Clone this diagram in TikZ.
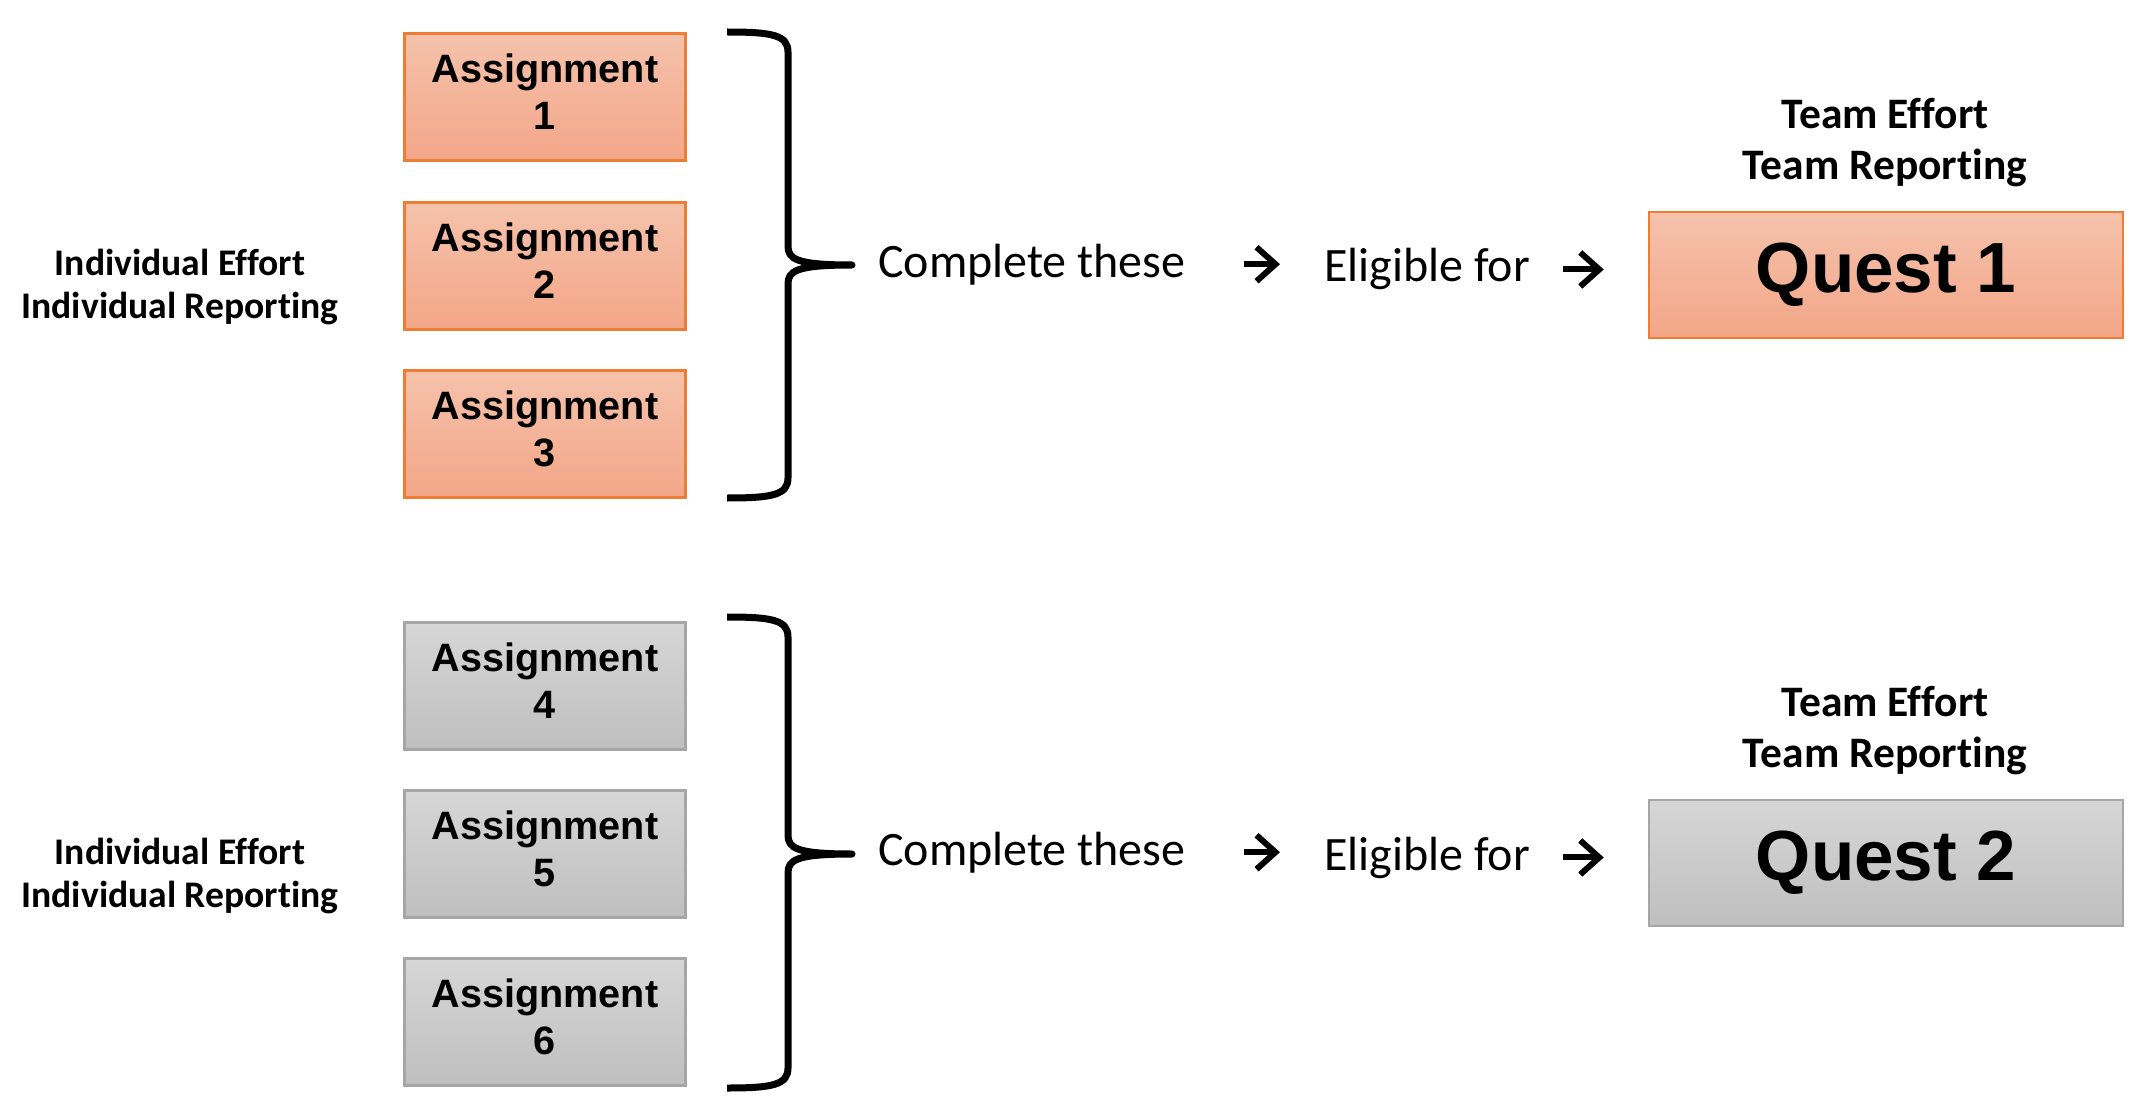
\documentclass[tikz,border=0pt]{standalone}
\usepackage{fontspec}
\setmainfont{Carlito}[Ligatures=NoCommon]
\newfontfamily\arialfont{Liberation Sans}
\usepackage{xcolor}
\usepackage{tikz}
\usetikzlibrary{arrows.meta}

\definecolor{orangetop}{RGB}{245,194,171}
\definecolor{orangebottom}{RGB}{243,166,136}
\definecolor{orangeline}{RGB}{237,125,50}
\definecolor{graytop}{RGB}{214,214,214}
\definecolor{graybottom}{RGB}{191,191,191}
\definecolor{grayline}{RGB}{166,166,166}

\begin{document}
\begin{tikzpicture}[x=1pt, y=-1pt,
        orangebox/.style={draw=orangeline, line width=2.5pt, top color=orangetop, bottom color=orangebottom},
        graybox/.style={draw=grayline, line width=2.5pt, top color=graytop, bottom color=graybottom},
        assign/.style={minimum width=281pt, minimum height=127pt, inner sep=0pt, align=center,
            text depth=10pt, font=\arialfont\bfseries\fontsize{39.6}{47}\selectfont},
        quest/.style={minimum width=474pt, minimum height=126pt, inner sep=0pt,
            font=\arialfont\bfseries\fontsize{71}{80}\selectfont},
        effort/.style={align=center, inner sep=0pt, font=\bfseries\fontsize{37.6}{43}\selectfont},
        team/.style={align=center, inner sep=0pt, font=\bfseries\fontsize{43.5}{51}\selectfont},
        flow/.style={inner sep=0pt, anchor=base west, font=\fontsize{48}{56}\selectfont},
        arr/.style={line width=6pt, -{Straight Barb[length=19pt, width=34pt]}},
        brace/.style={line width=7pt, line join=round}]
        \useasboundingbox (0, 0) rectangle (2156, 1110);

        % first quest
        \node[assign, orangebox] (a1) at (545, 97) {Assignment\\1};
        \node[assign, orangebox] (a2) at (545, 266) {Assignment\\2};
        \node[assign, orangebox] (a3) at (545, 434) {Assignment\\3};
        \node[effort] (indiv1) at (180, 287) {Individual Effort\\Individual Reporting};
        \draw[brace] (727, 32) .. controls (772, 32) and (788, 35) .. (788, 52) -- (788, 246)
            .. controls (788, 259) and (796, 265) .. (852, 265)
            .. controls (796, 265) and (788, 271) .. (788, 284) -- (788, 478)
            .. controls (788, 495) and (772, 498) .. (727, 498);
        \node[flow] (complete1) at (878, 277) {Complete these};
        \node[flow] (eligible1) at (1324, 282) {Eligible for};
        \node[quest, orangebox] (quest1) at (1886, 275) {Quest 1};
        \node[team] (team1) at (1885, 143) {Team Effort\\Team Reporting};
        \draw[arr, shorten <=58pt, shorten >=44pt] (complete1.east) -- (complete1.east -| eligible1.west);
        \draw[arr, shorten <=33pt, shorten >=44pt] (eligible1.east) -- (eligible1.east -| quest1.west);

        % second quest
        \node[assign, graybox] (a4) at (545, 686) {Assignment\\4};
        \node[assign, graybox] (a5) at (545, 854) {Assignment\\5};
        \node[assign, graybox] (a6) at (545, 1022) {Assignment\\6};
        \node[effort] (indiv2) at (180, 876) {Individual Effort\\Individual Reporting};
        \draw[brace] (727, 617) .. controls (772, 617) and (788, 620) .. (788, 637) -- (788, 835)
            .. controls (788, 848) and (796, 854) .. (852, 854)
            .. controls (796, 854) and (788, 860) .. (788, 873) -- (788, 1068)
            .. controls (788, 1085) and (772, 1088) .. (727, 1088);
        \node[flow] (complete2) at (878, 865) {Complete these};
        \node[flow] (eligible2) at (1324, 870) {Eligible for};
        \node[quest, graybox] (quest2) at (1886, 863) {Quest 2};
        \node[team] (team2) at (1885, 731) {Team Effort\\Team Reporting};
        \draw[arr, shorten <=58pt, shorten >=44pt] (complete2.east) -- (complete2.east -| eligible2.west);
        \draw[arr, shorten <=33pt, shorten >=44pt] (eligible2.east) -- (eligible2.east -| quest2.west);

        \node[flow, text=white] (due) at (73, 1048) {Due Dates};
\end{tikzpicture}
\end{document}
